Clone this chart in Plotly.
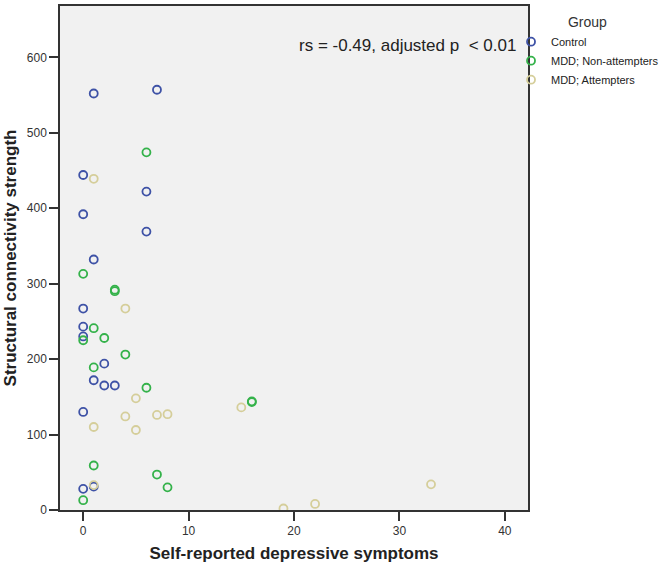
import plotly.graph_objects as go

# Control group
control_x = [1, 7, 0, 6, 0, 6, 1, 0, 0, 0, 2, 1, 2, 3, 0, 0, 1]
control_y = [552, 557, 444, 422, 392, 369, 332, 267, 243, 230, 194, 172, 165, 165, 130, 28, 31]

# MDD; Non-attempters
nonatt_x = [6, 0, 3, 3, 1, 2, 0, 4, 1, 6, 16, 16, 1, 7, 8, 0]
nonatt_y = [474, 313, 290, 292, 241, 228, 225, 206, 189, 162, 143, 144, 59, 47, 30, 13]

# MDD; Attempters
att_x = [1, 4, 5, 15, 4, 7, 8, 1, 5, 1, 33, 19, 22]
att_y = [439, 267, 148, 136, 124, 126, 127, 110, 106, 33, 34, 2, 8]

groups = [
    ("Control", control_x, control_y, "#3E52A6"),
    ("MDD; Non-attempters", nonatt_x, nonatt_y, "#34B24A"),
    ("MDD; Attempters", att_x, att_y, "#D5CE9A"),
]

x_ticks = [0, 10, 20, 30, 40]
y_ticks = [0, 100, 200, 300, 400, 500, 600]

fig = go.Figure()
for name, xs, ys, col in groups:
    fig.add_trace(go.Scatter(
        x=xs, y=ys, mode="markers", name=name,
        marker=dict(symbol="circle-open", size=8, color=col, line=dict(width=1.8, color=col)),
    ))

fig.update_layout(
    width=669, height=567,
    margin=dict(l=60, r=141, t=6, b=57, autoexpand=False),
    paper_bgcolor="white",
    plot_bgcolor="#F1F1F1",
    font=dict(family="Liberation Sans, Arial, sans-serif", color="#222"),
    showlegend=True,
    legend=dict(
        x=0.9637, y=0.994, xanchor="left", yanchor="top",
        bgcolor="rgba(0,0,0,0)",
        font=dict(size=11, color="#222"),
        title=dict(text="Group", side="top center", font=dict(size=14, color="#333")),
        itemwidth=30, tracegroupgap=0,
    ),
    annotations=[dict(
        text="rs = -0.49, adjusted p  < 0.01",
        xref="paper", yref="paper", x=0.9786, y=0.922,
        xanchor="right", yanchor="middle", showarrow=False,
        font=dict(size=17, color="#222"),
    )],
)

fig.update_xaxes(
    range=[-2.2, 42.2], tickvals=x_ticks, ticktext=[str(v) for v in x_ticks],
    showgrid=False, zeroline=False,
    showline=True, mirror=True, linecolor="#333", linewidth=1.5,
    ticks="outside", ticklen=9, tickwidth=1.5, tickcolor="#333",
    tickfont=dict(size=12, color="#333"),
    title=dict(text="<b>Self-reported depressive symptoms</b>", font=dict(size=17, color="#222"), standoff=10),
)
fig.update_yaxes(
    range=[0, 668], tickvals=y_ticks, ticktext=[str(v) for v in y_ticks],
    showgrid=False, zeroline=False,
    showline=True, mirror=True, linecolor="#333", linewidth=1.5,
    ticks="outside", ticklen=9, tickwidth=1.5, tickcolor="#333",
    tickfont=dict(size=12, color="#333"),
    title=dict(text="<b>Structural connectivity strength</b>", font=dict(size=17, color="#222"), standoff=6),
)

fig.write_html(
    "out.html",
    config={"displayModeBar": False},
    post_script="document.body.style.margin='0';document.body.style.padding='0';",
)
